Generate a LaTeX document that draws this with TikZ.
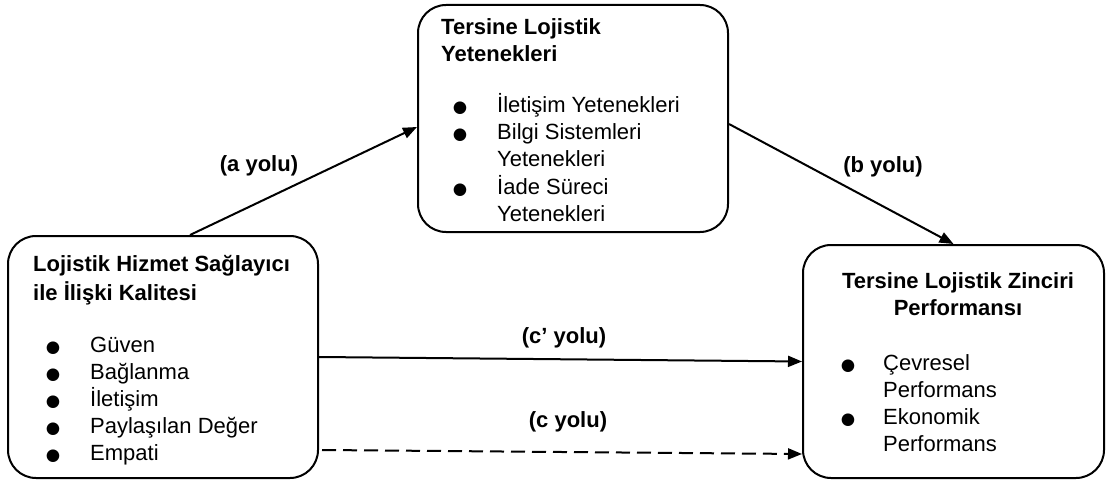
\documentclass[tikz,border=0pt]{standalone}
\usepackage{fontspec}
\setmainfont{Liberation Sans}
\newfontfamily\symfont{DejaVu Sans}
\usetikzlibrary{arrows.meta}
\begin{document}
\begin{tikzpicture}[x=1pt,y=-1pt,
  box/.style={draw, line width=2pt, rounded corners=28pt, inner sep=0pt},
  ttl/.style={anchor=base west, font=\fontsize{22}{27}\selectfont\bfseries, inner sep=0pt},
  ttlc/.style={anchor=base, font=\fontsize{22}{27}\selectfont\bfseries, inner sep=0pt},
  itm/.style={anchor=base west, font=\fontsize{22}{27}\selectfont, inner sep=0pt},
  bul/.style={anchor=base, font=\fontsize{16.5}{20}\symfont, inner sep=0pt},
  lbl/.style={anchor=base, font=\fontsize{22}{27}\selectfont\bfseries, inner sep=0pt},
  arr/.style={line width=2pt, -{Triangle[length=14pt,width=11pt]}},
]
\useasboundingbox (0,0) rectangle (1108,481);

% boxes
\node[box, minimum width=310pt, minimum height=242pt] (L) at (163,357) {};
\node[box, minimum width=310pt, minimum height=227pt] (T) at (573,118.5) {};
\node[box, minimum width=301pt, minimum height=233pt] (R) at (953.5,361.5) {};

% left box text
\node[ttl] (l1) at (33,271) {Lojistik Hizmet Sağlayıcı};
\node[ttl] (l2) at (33,300) {ile İlişki Kalitesi};
\node[bul] (lb1) at (53,352) {●};
\node[itm] (li1) at (90,352) {Güven};
\node[bul] (lb2) at (53,379) {●};
\node[itm] (li2) at (90,379) {Bağlanma};
\node[bul] (lb3) at (53,406) {●};
\node[itm] (li3) at (90,406) {İletişim};
\node[bul] (lb4) at (53,433) {●};
\node[itm] (li4) at (90,433) {Paylaşılan Değer};
\node[bul] (lb5) at (53,460) {●};
\node[itm] (li5) at (90,460) {Empati};

% top box text
\node[ttl] (t1) at (441,35) {Tersine Lojistik};
\node[ttl] (t2) at (441,62) {Yetenekleri};
\node[bul] (tb1) at (460,113) {●};
\node[itm] (ti1) at (497,113) {İletişim Yetenekleri};
\node[bul] (tb2) at (460,140) {●};
\node[itm] (ti2) at (497,140) {Bilgi Sistemleri};
\node[itm] (ti2b) at (497,167) {Yetenekleri};
\node[bul] (tb3) at (460,195) {●};
\node[itm] (ti3) at (497,195) {İade Süreci};
\node[itm] (ti3b) at (497,222) {Yetenekleri};

% right box text
\node[ttlc] (r1) at (958,288) {Tersine Lojistik Zinciri};
\node[ttlc] (r2) at (958,315) {Performansı};
\node[bul] (rb1) at (848,370) {●};
\node[itm] (ri1) at (883,370) {Çevresel};
\node[itm] (ri1b) at (883,397) {Performans};
\node[bul] (rb2) at (848,424) {●};
\node[itm] (ri2) at (883,424) {Ekonomik};
\node[itm] (ri2b) at (883,451) {Performans};

% connectors
\draw[arr] ([xshift=27pt]L.north) -- ([yshift=-8.5pt]T.west);
\draw[arr] ([yshift=-5.5pt]T.east) -- (R.north);
\draw[arr] (L.east) -- (R.west);
\draw[arr, dash pattern=on 14pt off 7pt] ([xshift=3pt,yshift=-93pt]L.east) -- ([yshift=-92.5pt]R.west);

% labels
\node[lbl] (la) at (259,172) {(a yolu)};
\node[lbl] (lb) at (883,173) {(b yolu)};
\node[lbl] (lcp) at (564,343) {(c’ yolu)};
\node[lbl] (lc) at (568,427) {(c yolu)};
\end{tikzpicture}
\end{document}
